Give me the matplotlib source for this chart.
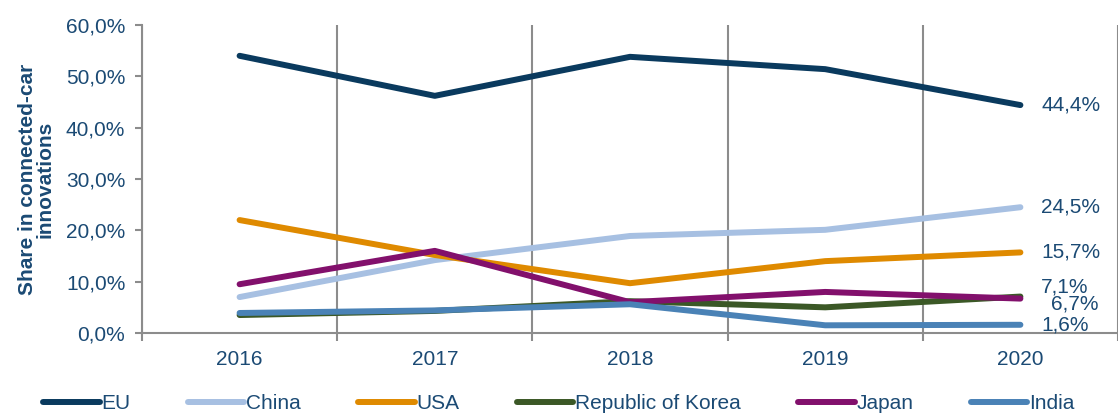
import matplotlib.pyplot as plt
import numpy as np

plt.rcParams['font.family'] = ['Liberation Sans', 'DejaVu Sans']

years = ['2016', '2017', '2018', '2019', '2020']
eu = [54.0, 46.2, 53.8, 51.4, 44.4]
china = [7.0, 14.2, 18.9, 20.1, 24.5]
usa = [22.0, 15.2, 9.7, 14.0, 15.7]
korea = [3.5, 4.3, 6.2, 5.0, 7.1]
japan = [9.5, 16.0, 6.0, 8.0, 6.7]
india = [3.9, 4.4, 5.6, 1.5, 1.6]

series = [
    ('EU', eu, '#0a3a5e'),
    ('China', china, '#a7c0e2'),
    ('USA', usa, '#df8a00'),
    ('Republic of Korea', korea, '#3b5826'),
    ('Japan', japan, '#82106c'),
    ('India', india, '#4a82b6'),
]
txt = '#1b4a74'
grid_c = '#8c8c8c'

fig = plt.figure(figsize=(11.18, 4.17), dpi=100)
ax = fig.add_axes([142 / 1118, 1 - 333 / 417, 1 - 142 / 1118, (333 - 25) / 417])

x = np.arange(len(years))
for name, vals, col in series:
    ax.plot(x, vals, color=col, lw=4.3, solid_capstyle='round',
            solid_joinstyle='round', label=name)

# end labels
offsets = {'EU': (0, 0), 'China': (0, 0), 'USA': (0, 0),
           'Republic of Korea': (0, 7), 'Japan': (7, -4), 'India': (0, 0)}
for name, vals, col in series:
    dx, dy = offsets[name]
    ax.annotate(f'{vals[-1]:.1f}%'.replace('.', ','), (x[-1], vals[-1]),
                xytext=(15 + dx, dy), textcoords='offset points',
                ha='left', va='center', fontsize=15, color=txt)

ax.set_xlim(-0.5, 4.41)
ax.set_ylim(0, 60)
ax.set_yticks(np.arange(0, 61, 10))
ax.set_yticklabels([f'{v:.1f}%'.replace('.', ',') for v in np.arange(0, 61, 10)])
ax.set_xticks(x)
ax.set_xticklabels(years)
ax.set_xticks(np.arange(-0.5, 4.6, 1), minor=True)
ax.tick_params(axis='x', which='major', length=0, pad=12, labelsize=15, labelcolor=txt)
ax.tick_params(axis='x', which='minor', length=6, color=grid_c, width=1.5)
ax.tick_params(axis='y', length=5, color=grid_c, width=1.5, labelsize=15,
               labelcolor=txt, pad=7)
ax.grid(axis='x', which='minor', color=grid_c, lw=1.5)
for s in ['top', 'right']:
    ax.spines[s].set_visible(False)
for s in ['left', 'bottom']:
    ax.spines[s].set_color(grid_c)
    ax.spines[s].set_linewidth(1.5)
ax.set_axisbelow(True)

ax.set_ylabel('Share in connected-car\ninnovations', fontsize=15,
              fontweight='bold', color=txt, labelpad=8, linespacing=0.9)

fig.legend(loc='lower left', bbox_to_anchor=(0.022, -0.035), ncol=6,
           frameon=False, fontsize=15, handlelength=2.7, handletextpad=0.1,
           columnspacing=2.75, labelcolor=txt)

fig.savefig('out.png', dpi=100)
